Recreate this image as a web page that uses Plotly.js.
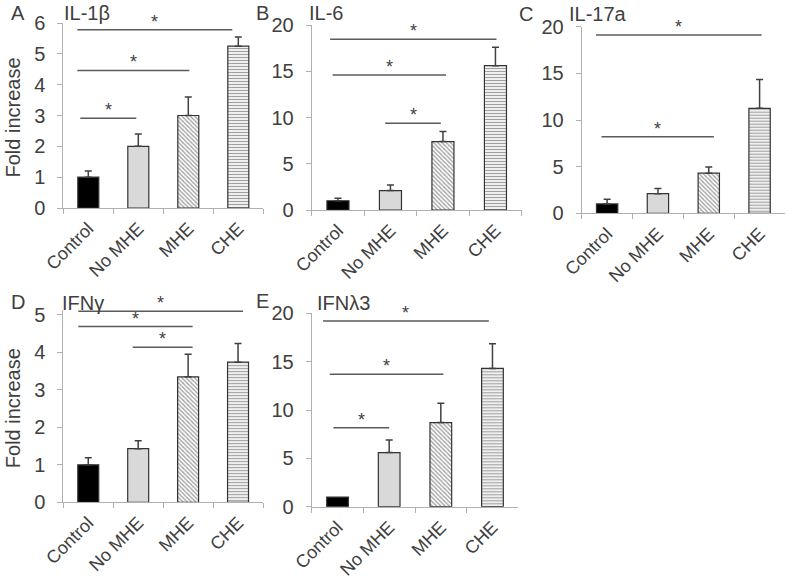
<!DOCTYPE html>
<html><head><meta charset="utf-8">
<script src="https://cdn.plot.ly/plotly-3.0.1.min.js"></script>
<style>html,body{margin:0;padding:0;background:#fff}#chart{width:787px;height:582px}</style>
</head><body><div id="chart"></div>
<script>
// ---- data ----
const categories = ['Control', 'No MHE', 'MHE', 'CHE'];
const panelLetters = ['A', 'B', 'C', 'D', 'E'];
const panelTitles = ['IL-1β', 'IL-6', 'IL-17a', 'IFNγ', 'IFNλ3'];
const yDtick = [1, 5, 5, 1, 5];
const il1bMean = [1.0, 2.0, 3.0, 5.25];
const il1bErr = [0.2, 0.4, 0.6, 0.3];
const il6Mean = [1.0, 2.1, 7.4, 15.6];
const il6Err = [0.28, 0.6, 1.1, 2.0];
const il17aMean = [1.0, 2.1, 4.3, 11.25];
const il17aErr = [0.5, 0.55, 0.65, 3.1];
const ifngMean = [1.0, 1.43, 3.35, 3.74];
const ifngErr = [0.19, 0.21, 0.6, 0.5];
const ifnl3Mean = [1.0, 5.6, 8.7, 14.3];
const ifnl3Err = [0.0, 1.3, 2.0, 2.55];
// significance brackets: [startCategoryPos, endCategoryPos, level]
const il1bSig = [[-0.22, 2.88, 5.78], [-0.22, 2.02, 4.46], [-0.16, 0.96, 2.91]];
const il6Sig = [[-0.15, 3.02, 18.45], [-0.1, 2.06, 14.6], [0.9, 1.96, 9.37]];
const il17aSig = [[-0.22, 3.04, 19.1], [-0.11, 2.1, 8.2]];
const ifngSig = [[-0.2, 3.1, 5.1], [-0.2, 2.09, 4.69], [0.89, 2.09, 4.14]];
const ifnl3Sig = [[-0.28, 2.93, 19.2], [-0.15, 2.05, 13.7], [-0.08, 1.0, 8.17]];

const means = [il1bMean, il6Mean, il17aMean, ifngMean, ifnl3Mean];
const errs = [il1bErr, il6Err, il17aErr, ifngErr, ifnl3Err];
const sigs = [il1bSig, il6Sig, il17aSig, ifngSig, ifnl3Sig];

// ---- layout geometry (pixels) ----
const W = 787, H = 582;
const boxes = [
  {l: 63.3, r: 263.3, b: 208, t: 23, ytop: 6},
  {l: 311.7, r: 521.7, b: 210, t: 25, ytop: 20},
  {l: 581.7, r: 785, b: 213.3, t: 26.7, ytop: 20},
  {l: 63.3, r: 263, b: 502.3, t: 310.1, ytop: 5.13},
  {l: 311.7, r: 518.3, b: 506.7, t: 313.3, ytop: 20}
];
const letterPos = [[18, 13], [262, 13], [526, 14], [18, 302], [262, 301]];
const titlePos = [[62, 13], [307, 13], [567, 14], [60, 303], [315, 303]];

const FONT = 'Liberation Sans, Arial, sans-serif';
const TXT = '#404040';
const AX = '#b0b0b0';

const fills = ['#000000', '#d9d9d9', '#ffffff', '#ffffff'];
const shapesPat = ['', '', '\\', '-'];

const data = [];
const layout = {
  width: W, height: H,
  margin: {l: 0, r: 0, t: 0, b: 0},
  paper_bgcolor: '#fff', plot_bgcolor: '#fff',
  showlegend: false, barmode: 'overlay',
  font: {family: FONT, color: TXT},
  shapes: [], annotations: []
};

for (let i = 0; i < 5; i++) {
  const s = i === 0 ? '' : String(i + 1);
  const bx = boxes[i];
  for (let c = 0; c < categories.length; c++) {
    const marker = {color: fills[c], line: {color: '#333333', width: 1.2}};
    if (shapesPat[c]) {
      marker.pattern = {shape: shapesPat[c], fgcolor: '#444444', bgcolor: '#ffffff',
        fillmode: 'overlay', size: 3, solidity: 0.45};
    }
    data.push({
      type: 'bar', x: [categories[c]], y: [means[i][c]],
      xaxis: 'x' + s, yaxis: 'y' + s,
      width: 0.42, opacity: 1,
      marker: marker,
      error_y: {type: 'data', symmetric: false, array: [errs[i][c]], arrayminus: [0],
        color: '#404040', thickness: 1.5, width: 3.5, visible: errs[i][c] > 0},
      hoverinfo: 'skip'
    });
  }
  layout['xaxis' + s] = {
    domain: [bx.l / W, bx.r / W], anchor: 'y' + s,
    type: 'category', categoryarray: categories, categoryorder: 'array', range: [-0.5, 3.5],
    showline: true, linecolor: AX, linewidth: 1,
    ticks: 'outside', tickson: 'boundaries', ticklen: 5, tickcolor: AX,
    ticklabelstandoff: 2,
    tickangle: -45, tickfont: {size: 18, color: TXT, family: FONT},
    showgrid: false, zeroline: false, fixedrange: true
  };
  layout['yaxis' + s] = {
    domain: [1 - bx.b / H, 1 - bx.t / H], anchor: 'x' + s,
    range: [0, bx.ytop], dtick: yDtick[i], tick0: 0,
    showline: true, linecolor: AX, linewidth: 1,
    ticks: 'outside', ticklen: 5, tickcolor: AX, ticklabelstandoff: 8,
    tickfont: {size: 20, color: TXT, family: FONT},
    showgrid: false, zeroline: false, fixedrange: true
  };
  sigs[i].forEach(sg => {
    layout.shapes.push({type: 'line', xref: 'x' + s, yref: 'y' + s,
      x0: sg[0], x1: sg[1], y0: sg[2], y1: sg[2],
      line: {color: '#5a5a5a', width: 1.5}});
    layout.annotations.push({xref: 'x' + s, yref: 'y' + s,
      x: (sg[0] + sg[1]) / 2, y: sg[2], text: '*', showarrow: false,
      yanchor: 'bottom', yshift: -4, font: {size: 18, color: TXT, family: FONT}});
  });
  layout.annotations.push({xref: 'paper', yref: 'paper',
    x: letterPos[i][0] / W, y: 1 - letterPos[i][1] / H, text: panelLetters[i],
    showarrow: false, xanchor: 'center', yanchor: 'middle',
    font: {size: 20, color: TXT, family: FONT}});
  layout.annotations.push({xref: 'paper', yref: 'paper',
    x: titlePos[i][0] / W, y: 1 - titlePos[i][1] / H, text: panelTitles[i],
    showarrow: false, xanchor: 'left', yanchor: 'middle',
    font: {size: 20, color: TXT, family: FONT}});
}
// y-axis titles for A and D
[0, 3].forEach(i => {
  const bx = boxes[i];
  layout.annotations.push({xref: 'paper', yref: 'paper',
    x: 13 / W, y: 1 - ((bx.b + bx.t) / 2 + 2) / H, text: 'Fold increase',
    textangle: -90, showarrow: false, xanchor: 'center', yanchor: 'middle',
    font: {size: 20, color: TXT, family: FONT}});
});

Plotly.newPlot('chart', data, layout, {displayModeBar: false, staticPlot: true});
</script>
</body></html>
